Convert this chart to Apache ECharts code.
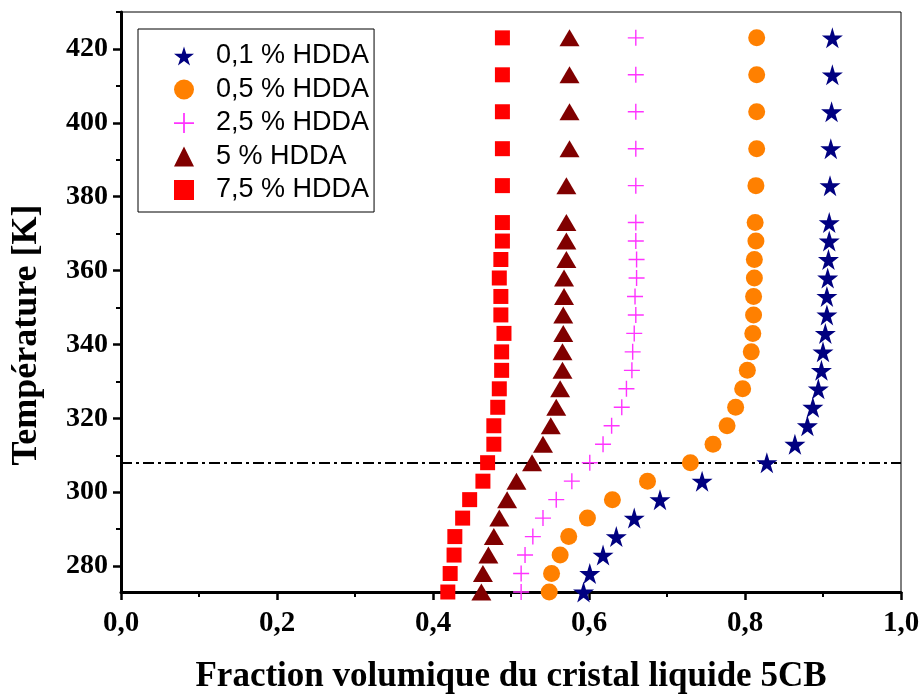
<!DOCTYPE html>
<html>
<head>
<meta charset="utf-8">
<script src="https://cdn.jsdelivr.net/npm/echarts@6/dist/echarts.min.js"></script>
<style>
  html, body { margin: 0; padding: 0; background: #fff; }
  #chart { width: 920px; height: 696px; }
</style>
</head>
<body>
<div id="chart"></div>
<script>
// temperatures (K)
const temps = [273, 278, 283, 288, 293, 298, 303, 308, 313, 318, 323, 328, 333, 338, 343, 348, 353, 358, 363, 368, 373, 383, 393, 403, 413, 423]

// volume fraction of 5CB for each HDDA content
const hdda01 = [0.593, 0.601, 0.618, 0.635, 0.658, 0.691, 0.745, 0.828, 0.864, 0.880, 0.887, 0.894, 0.898, 0.900, 0.903, 0.905, 0.905, 0.906, 0.907, 0.908, 0.908, 0.909, 0.910, 0.911, 0.912, 0.912]
const hdda05 = [0.549, 0.552, 0.563, 0.574, 0.598, 0.630, 0.675, 0.730, 0.759, 0.777, 0.788, 0.797, 0.803, 0.808, 0.810, 0.811, 0.811, 0.812, 0.812, 0.814, 0.813, 0.814, 0.815, 0.815, 0.815, 0.815]
const hdda25 = [0.513, 0.513, 0.518, 0.528, 0.541, 0.558, 0.578, 0.601, 0.618, 0.629, 0.642, 0.648, 0.655, 0.656, 0.658, 0.660, 0.659, 0.661, 0.661, 0.660, 0.660, 0.660, 0.660, 0.660, 0.660, 0.660]
const hdda5 = [0.462, 0.464, 0.471, 0.478, 0.485, 0.495, 0.507, 0.527, 0.541, 0.551, 0.558, 0.563, 0.566, 0.566, 0.567, 0.567, 0.568, 0.568, 0.571, 0.571, 0.571, 0.571, 0.575, 0.575, 0.575, 0.575]
const hdda75 = [0.419, 0.422, 0.427, 0.428, 0.438, 0.447, 0.464, 0.470, 0.478, 0.478, 0.483, 0.485, 0.488, 0.488, 0.491, 0.487, 0.487, 0.485, 0.487, 0.489, 0.489, 0.489, 0.489, 0.489, 0.489, 0.489]

const yMajorTicks = [280, 300, 320, 340, 360, 380, 400, 420]
const yMinorTicks = [290, 310, 330, 350, 370, 390, 410, 430]
const transitionTemp = 308

const STAR = 'path://M50,0 L61,35 L98,35 L68,57 L79,91 L50,70 L21,91 L32,57 L2,35 L39,35 Z'
const PLUS = 'path://M-0.7,-8 L0.7,-8 L0.7,8 L-0.7,8 Z M-8,-0.7 L8,-0.7 L8,0.7 L-8,0.7 Z'

const seriesDefs = [
  { name: '0,1 % HDDA', values: hdda01, symbol: STAR, size: 21, color: '#000080' },
  { name: '0,5 % HDDA', values: hdda05, symbol: 'circle', size: 17, color: '#FF8000' },
  { name: '2,5 % HDDA', values: hdda25, symbol: PLUS, size: 16, color: '#FF33FF' },
  { name: '5 % HDDA', values: hdda5, symbol: 'triangle', size: [20, 17], color: '#800000' },
  { name: '7,5 % HDDA', values: hdda75, symbol: 'rect', size: 15, color: '#FF0000' }
]

const serif = '"Liberation Serif", "Times New Roman", serif'
const chart = echarts.init(document.getElementById('chart'))

const series = seriesDefs.map((s, i) => ({
  name: s.name,
  type: 'scatter',
  symbol: s.symbol,
  symbolSize: s.size,
  itemStyle: { color: s.color, opacity: 1 },
  data: s.values.map((v, k) => [v, temps[k]]),
  z: 10 - i
}))

// dash-dot line at the transition temperature
series.push({
  type: 'line',
  data: [],
  silent: true,
  markLine: {
    symbol: 'none',
    silent: true,
    label: { show: false },
    lineStyle: { color: '#000', width: 1.8, type: [11, 4, 3, 4] },
    data: [{ yAxis: transitionTemp }]
  }
})

chart.setOption({
  animation: false,
  grid: {
    left: 121, right: 19, top: 12, bottom: 104,
    outerBoundsMode: 'none',
    show: true, borderColor: '#000', borderWidth: 1
  },
  legend: {
    orient: 'vertical',
    left: 138,
    top: 29,
    padding: [13, 5, 8, 36],
    itemGap: 5.5,
    itemWidth: 20,
    itemHeight: 20,
    borderColor: '#000',
    borderWidth: 1,
    data: seriesDefs.map(s => s.name),
    textStyle: {
      fontFamily: '"Liberation Sans", Arial, sans-serif',
      fontSize: 27, lineHeight: 28, color: '#000',
      padding: [0, 0, 0, 17]
    }
  },
  graphic: [{
    type: 'text',
    x: 27,
    y: 335,
    rotation: Math.PI / 2,
    style: {
      text: 'Température [K]',
      font: 'bold 36px ' + serif,
      fill: '#000',
      align: 'center',
      verticalAlign: 'middle'
    }
  }],
  xAxis: {
    type: 'value',
    min: 0,
    max: 1,
    interval: 0.2,
    name: 'Fraction volumique du cristal liquide 5CB',
    nameLocation: 'middle',
    nameGap: 67,
    nameTextStyle: { fontFamily: serif, fontWeight: 'bold', fontSize: 35, color: '#000' },
    axisLine: { show: true, lineStyle: { color: '#000', width: 3 } },
    axisTick: { show: true, length: 8, lineStyle: { color: '#000', width: 2.5 } },
    minorTick: { show: true, splitNumber: 2, length: 5, lineStyle: { color: '#000', width: 2 } },
    axisLabel: {
      margin: 17,
      fontFamily: serif, fontWeight: 'bold', fontSize: 29, color: '#000',
      formatter: v => v.toFixed(1).replace('.', ',')
    },
    splitLine: { show: false }
  },
  yAxis: [
    {
      type: 'value',
      min: 273,
      max: 430,
      axisLine: { show: true, lineStyle: { color: '#000', width: 3 } },
      axisTick: { show: true, length: 8, customValues: yMajorTicks, lineStyle: { color: '#000', width: 2.5 } },
      axisLabel: {
        customValues: yMajorTicks,
        margin: 13,
        fontFamily: serif, fontWeight: 'bold', fontSize: 28, color: '#000'
      },
      splitLine: { show: false }
    },
    {
      type: 'value',
      min: 273,
      max: 430,
      position: 'left',
      axisLine: { show: false },
      axisTick: { show: true, length: 5, customValues: yMinorTicks, lineStyle: { color: '#000', width: 2 } },
      axisLabel: { show: false },
      splitLine: { show: false }
    }
  ],
  series: series
})
</script>
</body>
</html>
